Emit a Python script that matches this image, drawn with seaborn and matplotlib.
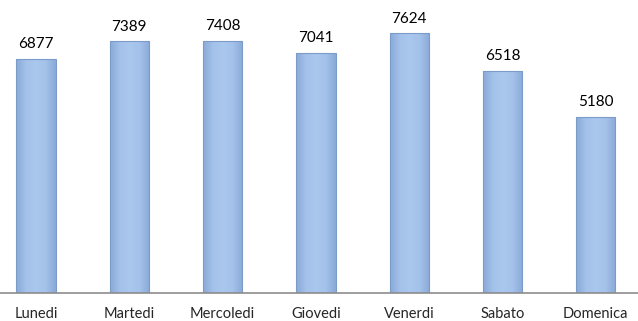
import numpy as np
import pandas as pd
import matplotlib
matplotlib.use("Agg")
import matplotlib.pyplot as plt
import seaborn as sns
from matplotlib.colors import LinearSegmentedColormap
from matplotlib.patches import Rectangle

giorni = ["Lunedi", "Martedi", "Mercoledi", "Giovedi", "Venerdi", "Sabato", "Domenica"]
valori = [6877, 7389, 7408, 7041, 7624, 6518, 5180]

df = pd.DataFrame({"giorno": giorni, "valore": valori})

sns.set_style("white")
plt.rcParams["font.family"] = ["Lato", "DejaVu Sans"]

fig = plt.figure(figsize=(6.38, 3.21), dpi=100)
ax = fig.add_axes([0, 0.0872, 1, 0.9128])

sns.barplot(data=df, x="giorno", y="valore", color="#a4c2ea", width=0.42,
            edgecolor="none", ax=ax)

# gradient fill, darker at the sides like the bevelled bars
cmap = LinearSegmentedColormap.from_list("bev", ["#8aaad8", "#a4c2ea", "#aac7ee", "#a4c2ea", "#8aaad8"])
grad = np.linspace(0, 1, 64).reshape(1, -1)
for p in list(ax.patches):
    x0, y0 = p.get_x(), p.get_y()
    w, h = p.get_width(), p.get_height()
    im = ax.imshow(grad, cmap=cmap, aspect="auto", extent=(x0, x0 + w, y0, y0 + h), zorder=p.get_zorder() + 0.1)
    im.set_clip_path(p)
    ax.add_patch(Rectangle((x0, y0), w, h, fill=False, edgecolor="#7b9bc9", linewidth=0.8,
                           zorder=p.get_zorder() + 0.2))
    ax.text(x0 + w / 2, y0 + h + 230, f"{int(h)}", ha="center", va="bottom", fontsize=11, color="black")

ax.set_xlim(-0.386, 6.452)
ax.set_ylim(0, 8605)
ax.set_xlabel("")
ax.set_ylabel("")
ax.set_yticks([])
ax.tick_params(axis="x", length=0, labelsize=10.5, pad=10)
for s in ["top", "left", "right"]:
    ax.spines[s].set_visible(False)
ax.spines["bottom"].set_color("#8c8c8c")
ax.spines["bottom"].set_linewidth(1.2)
ax.spines["bottom"].set_zorder(5)

fig.savefig("out.png", dpi=100)
